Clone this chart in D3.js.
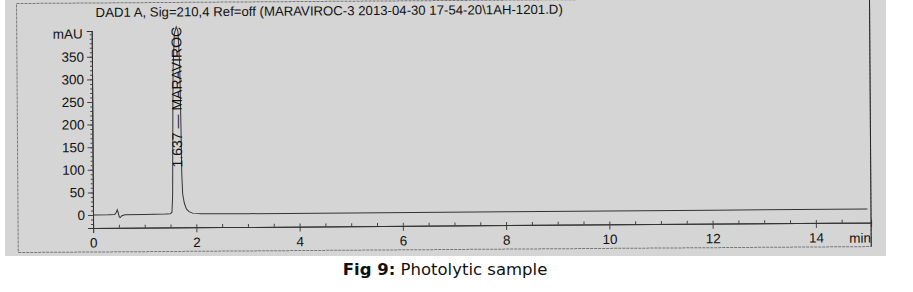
<!DOCTYPE html>
<html lang="en">
<head>
<meta charset="utf-8">
<title>Photolytic sample</title>
<script src="https://cdnjs.cloudflare.com/ajax/libs/d3/7.8.5/d3.min.js"></script>
<style>
  body { margin: 0; background: #fff; }
  svg { display: block; }
</style>
</head>
<body>
<div id="viz"></div>
<script>
// chromatogram trace (min, mAU)
const times = [0, 0.3, 0.42, 0.45, 0.47, 0.49, 0.51, 0.53, 0.56, 0.62, 1.0, 1.4, 1.5, 1.53,
  1.545, 1.555, 1.57, 1.6, 1.637, 1.67, 1.70, 1.715, 1.725, 1.74, 1.77, 1.81, 1.86, 1.94,
  2.1, 3, 5, 8, 10, 12, 15];
const signal = [0, 0, 0.5, 5, 11, 4, -5, -6, -2, 0, 0.5, 1, 1.5, 5,
  40, 160, 320, 400, 415, 405, 330, 200, 90, 45, 25, 12, 6, 2,
  0.8, 0.5, 0.5, 0.8, 1, 1, 1];

const yTicks = [0, 50, 100, 150, 200, 250, 300, 350];
const xTicks = [0, 2, 4, 6, 8, 10, 12, 14];
const peakTime = 1.637;
const peakName = "MARAVIROC";
const title = "DAD1 A, Sig=210,4 Ref=off (MARAVIROC-3 2013-04-30 17-54-20\\1AH-1201.D)";

const width = 913, height = 292;
const axisFont = "'Liberation Sans', Arial, sans-serif";

const svg = d3.select("#viz").append("svg")
  .attr("width", width)
  .attr("height", height);

// scanned paper
svg.append("rect")
  .attr("x", 5).attr("y", 0)
  .attr("width", 881).attr("height", 256)
  .attr("fill", "#d5d5d5");

const x = d3.scaleLinear().domain([0, 15.07]).range([93, 871]);
const y = d3.scaleLinear().domain([-28.8, 407]).range([228, 31]);

// the scan is a bit tilted
const g = svg.append("g")
  .attr("transform", `rotate(-0.4, ${x(0)}, ${y(0)})`);

// frame
g.append("rect")
  .attr("x", 18).attr("y", 3)
  .attr("width", 853).attr("height", 249)
  .attr("fill", "none")
  .attr("stroke", "#777")
  .attr("stroke-width", 1)
  .attr("stroke-dasharray", "3,1");
g.append("line")
  .attr("x1", 871).attr("x2", 871)
  .attr("y1", 3).attr("y2", 252)
  .attr("stroke", "#222");

g.append("text")
  .attr("x", 97).attr("y", 17)
  .attr("font-family", axisFont)
  .attr("font-size", 13.2)
  .attr("fill", "#111")
  .text(title);

// y axis
const yAxis = g.append("g")
  .attr("transform", `translate(${x(0)},0)`)
  .call(d3.axisLeft(y).tickValues(yTicks).tickSize(5).tickPadding(3));
yAxis.append("g")
  .call(d3.axisLeft(y).tickValues(d3.range(-20, 401, 10)).tickSize(2).tickFormat(""));
yAxis.append("text")
  .attr("x", -9).attr("y", y(400))
  .attr("dy", "0.32em")
  .attr("text-anchor", "end")
  .attr("fill", "#111")
  .text("mAU");

// x axis
const xAxis = g.append("g")
  .attr("transform", `translate(0,${y.range()[0]})`)
  .call(d3.axisBottom(x).tickValues(xTicks).tickSize(5).tickPadding(5));
xAxis.append("g")
  .call(d3.axisTop(x).tickValues(d3.range(0.5, 15, 0.5)).tickSize(3).tickFormat(""));
xAxis.append("text")
  .attr("x", 860).attr("y", 20)
  .attr("text-anchor", "middle")
  .attr("fill", "#111")
  .text("min");

[yAxis, xAxis].forEach(a => {
  a.attr("font-family", axisFont).attr("font-size", 13.5);
  a.selectAll(".domain").attr("stroke", "#333");
  a.selectAll(".tick line").attr("stroke", "#444");
  a.selectAll(".tick text").attr("fill", "#111");
});

// trace
const trace = times.map((t, i) => [t, signal[i]]);
g.append("path")
  .datum(trace)
  .attr("fill", "none")
  .attr("stroke", "#333")
  .attr("stroke-width", 1)
  .attr("d", d3.line().x(d => x(d[0])).y(d => y(d[1])));

// peak label
const lx = x(peakTime) + 5, ly = 168;
g.append("text")
  .attr("transform", `translate(${lx},${ly}) rotate(-90)`)
  .attr("font-family", axisFont)
  .attr("font-size", 14)
  .attr("fill", "#111")
  .text(`${peakTime.toFixed(3)} \u2014 ${peakName}`);

// caption
const cap = svg.append("text")
  .attr("x", 445).attr("y", 275)
  .attr("text-anchor", "middle")
  .attr("font-family", "'DejaVu Sans', sans-serif")
  .attr("font-size", 16.5)
  .attr("fill", "#111");
cap.append("tspan").attr("font-weight", "bold").text("Fig 9:");
cap.append("tspan").text(" Photolytic sample");
</script>
</body>
</html>
